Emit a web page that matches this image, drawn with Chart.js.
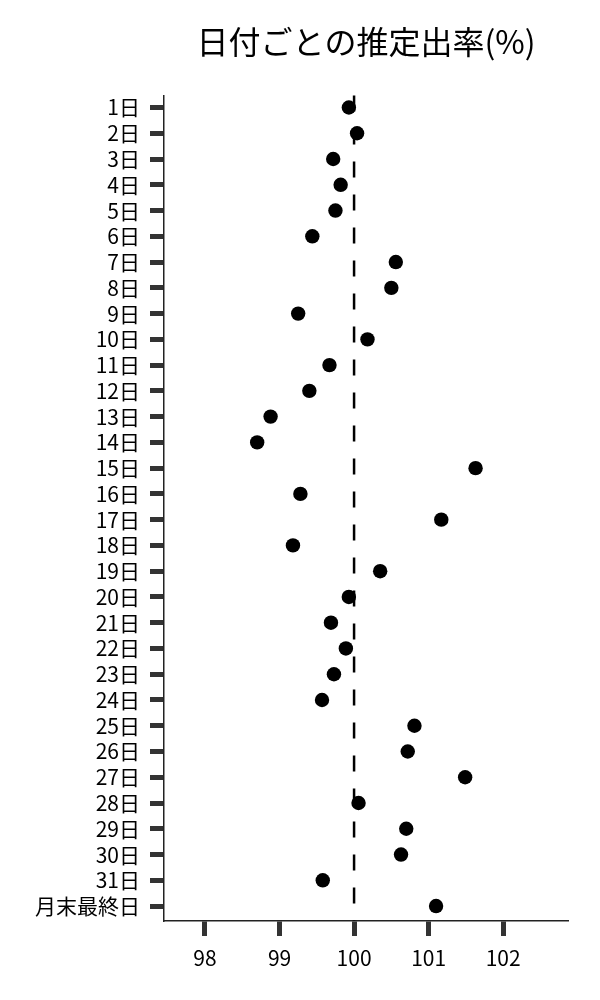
<!DOCTYPE html>
<html lang="ja">
<head>
<meta charset="utf-8">
<title>日付ごとの推定出率(%)</title>
<script src="https://cdn.jsdelivr.net/npm/chart.js@4.4.1/dist/chart.umd.min.js"></script>
<style>
  html, body { margin: 0; padding: 0; background: #ffffff; }
  #wrap { width: 600px; height: 1000px; }
</style>
</head>
<body>
<div id="wrap"><canvas id="rateChart" width="600" height="1000"></canvas></div>
<script>
// 日付ラベル(上から順)
const dayLabels = [
    '1日', '2日', '3日', '4日', '5日', '6日', '7日', '8日', '9日', '10日',
    '11日', '12日', '13日', '14日', '15日', '16日', '17日', '18日', '19日', '20日',
    '21日', '22日', '23日', '24日', '25日', '26日', '27日', '28日', '29日', '30日',
    '31日', '月末最終日'
];

// 推定出率(%)
const rateValues = [
    99.93, 100.04, 99.72, 99.82, 99.75, 99.44, 100.56, 100.50, 99.25, 100.18,
    99.67, 99.40, 98.88, 98.70, 101.63, 99.28, 101.17, 99.18, 100.35, 99.93,
    99.69, 99.89, 99.73, 99.57, 100.81, 100.72, 101.49, 100.06, 100.70, 100.63,
    99.58, 101.10
];

const xTickValues = [98, 99, 100, 101, 102];
const referenceRate = 100;

const FONT = "'Noto Sans CJK JP', 'Noto Sans', sans-serif";

/* 基準線(100%)を点の下に破線で描く */
const referenceLine = {
    id: 'referenceLine',
    beforeDatasetsDraw(chart) {
        const { ctx, chartArea, scales } = chart;
        const x = scales.x.getPixelForValue(referenceRate);
        ctx.save();
        ctx.strokeStyle = '#000000';
        ctx.lineWidth = 2.5;
        ctx.setLineDash([16, 17]);
        ctx.beginPath();
        ctx.moveTo(x, chartArea.top);
        ctx.lineTo(x, chartArea.bottom);
        ctx.stroke();
        ctx.restore();
    }
};

const points = rateValues.map((v, i) => ({ x: v, y: i }));

new Chart(document.getElementById('rateChart').getContext('2d'), {
    type: 'scatter',
    data: {
        datasets: [{
            data: points,
            backgroundColor: '#000000',
            borderColor: '#000000',
            pointRadius: 7.2,
            pointHoverRadius: 7.2,
            borderWidth: 0
        }]
    },
    options: {
        responsive: false,
        animation: false,
        layout: { padding: { left: 0, right: 32, top: 0, bottom: 0 } },
        plugins: {
            legend: { display: false },
            tooltip: { enabled: false },
            title: {
                display: true,
                text: '日付ごとの推定出率(%)',
                fullSize: false,
                color: '#000000',
                font: { size: 32, family: FONT, weight: 'normal' },
                padding: { top: 23, bottom: 34 }
            }
        },
        scales: {
            x: {
                type: 'linear',
                min: 97.45,
                max: 102.87,
                afterBuildTicks: (scale) => {
                    scale.ticks = xTickValues.map(v => ({ value: v }));
                },
                afterFit: (scale) => { scale.height = 79; },
                ticks: {
                    color: '#000000',
                    padding: 9,
                    autoSkip: false,
                    maxRotation: 0,
                    font: { size: 21, family: FONT },
                    callback: (v) => String(v)
                },
                grid: {
                    drawOnChartArea: false,
                    drawTicks: true,
                    tickLength: 15,
                    tickWidth: 5,
                    tickColor: '#333333'
                },
                border: { display: true, color: '#222222', width: 1.5 }
            },
            y: {
                type: 'linear',
                reverse: true,
                min: -0.47,
                max: 31.58,
                afterBuildTicks: (scale) => {
                    scale.ticks = dayLabels.map((_, i) => ({ value: i }));
                },
                afterFit: (scale) => { scale.width = 164; },
                ticks: {
                    color: '#000000',
                    padding: 10,
                    autoSkip: false,
                    font: { size: 21, family: FONT },
                    callback: (v) => dayLabels[v]
                },
                grid: {
                    drawOnChartArea: false,
                    drawTicks: true,
                    tickLength: 14,
                    tickWidth: 5,
                    tickColor: '#333333'
                },
                border: { display: true, color: '#222222', width: 1.5 }
            }
        }
    },
    plugins: [referenceLine]
});
</script>
</body>
</html>
